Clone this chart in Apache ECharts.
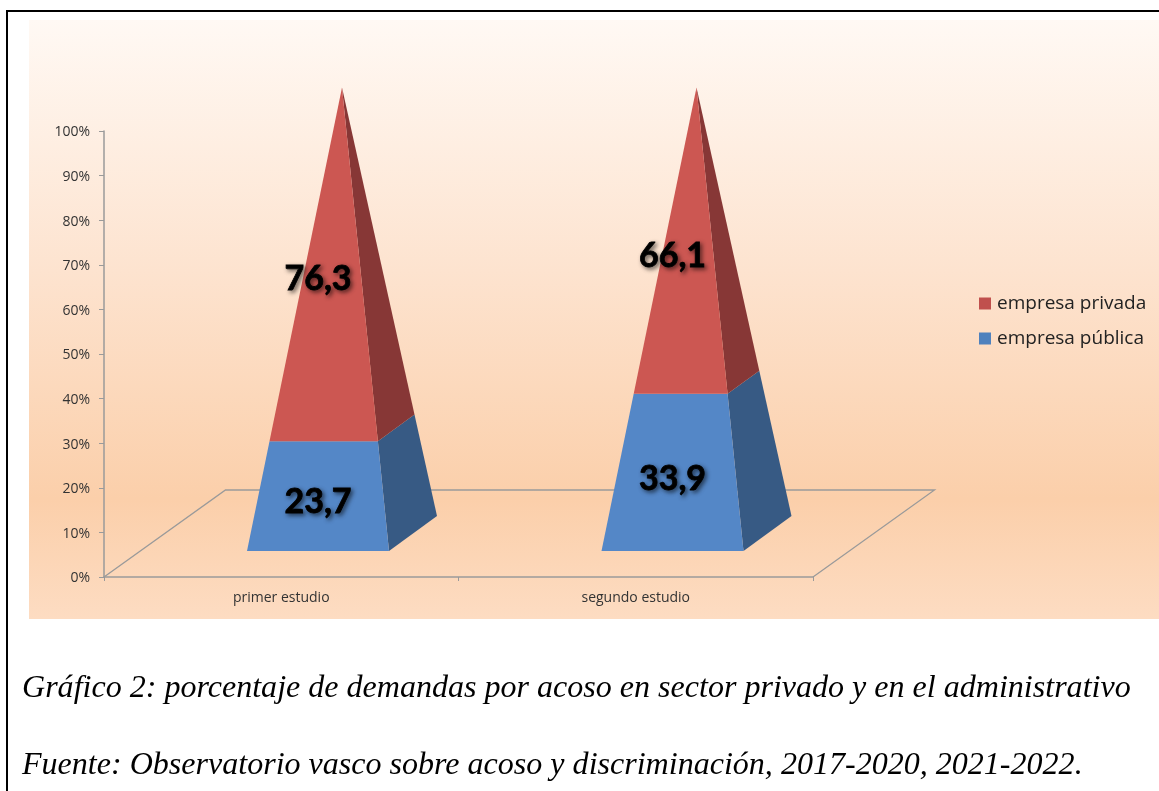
<!DOCTYPE html>
<html>
<head>
<meta charset="utf-8">
<style>
  html, body { margin: 0; padding: 0; background: #fff; overflow: hidden; }
  #chart { width: 1159px; height: 791px; }
</style>
<script src="https://cdn.jsdelivr.net/npm/echarts@6/dist/echarts.min.js"></script>
</head>
<body>
<div id="chart"></div>
<script>
const categories = ['primer estudio', 'segundo estudio'];
const empresaPublica = [23.7, 33.9];
const empresaPrivada = [76.3, 66.1];
const valueLabels = ['0%', '10%', '20%', '30%', '40%', '50%', '60%', '70%', '80%', '90%', '100%'];
const legendNames = ['empresa privada', 'empresa pública'];
const captionLines = [
  'Gráfico 2: porcentaje de demandas por acoso en sector privado y en el administrativo',
  'Fuente: Observatorio vasco sobre acoso y discriminación, 2017-2020, 2021-2022.'
];

// Oblique projection of the chart's floor: how far the back edge sits from the front edge.
const DEPTH_X = 121.5;
const DEPTH_Y = -87;
const BASE_HALF_WIDTH = 71;
const BASE_DEPTH_X = 24;
const BASE_DEPTH_Y = -17.5;

const chart = echarts.init(document.getElementById('chart'), null, { renderer: 'canvas' });

function fmt(v) {
  return v.toFixed(1).replace('.', ',');
}

// A pyramid section between two cumulative percentages, as front and side faces.
function pyramidSection(front, side) {
  return function (params, api) {
    const cat = api.value(0);
    const from = api.value(1);
    const to = api.value(2);
    const label = api.value(3);
    const p0 = api.coord([cat, 0]);
    const cx = p0[0] + DEPTH_X / 2;
    const ring = function (v) {
      const y = api.coord([cat, v])[1] + DEPTH_Y / 2;
      const s = 1 - v / 100;
      const fx = cx - BASE_DEPTH_X * s;
      const fy = y - BASE_DEPTH_Y * s;
      return {
        left: [fx - BASE_HALF_WIDTH * s, fy],
        right: [fx + BASE_HALF_WIDTH * s, fy],
        back: [cx + BASE_DEPTH_X * s + BASE_HALF_WIDTH * s, y + BASE_DEPTH_Y * s]
      };
    };
    const lo = ring(from);
    const hi = ring(to);
    const midY = api.coord([cat, (from + to) / 2])[1] + DEPTH_Y / 2;
    return {
      type: 'group',
      children: [
        { type: 'polygon', shape: { points: [lo.right, lo.back, hi.back, hi.right] }, style: { fill: side } },
        { type: 'polygon', shape: { points: [lo.left, lo.right, hi.right, hi.left] }, style: { fill: front } },
        {
          type: 'text',
          z2: 10,
          style: {
            x: cx - BASE_DEPTH_X,
            y: midY + 21,
            text: fmt(label),
            align: 'center',
            verticalAlign: 'middle',
            font: 'bold 34px Lato',
            fill: '#000',
            stroke: '#000',
            lineWidth: 0.8,
            textShadowColor: 'rgba(0,0,0,0.55)',
            textShadowBlur: 4,
            textShadowOffsetX: 2,
            textShadowOffsetY: 2
          }
        }
      ]
    };
  };
}

// The floor parallelogram behind the pyramids, spanning both category bands.
function floorItem(params, api) {
  const band = api.size([1, 0])[0];
  const first = api.coord([0, 0]);
  const last = api.coord([categories.length - 1, 0]);
  const a = [first[0] - band / 2, first[1]];
  const b = [last[0] + band / 2, last[1]];
  return {
    type: 'polyline',
    shape: { points: [a, [a[0] + DEPTH_X, a[1] + DEPTH_Y], [b[0] + DEPTH_X, b[1] + DEPTH_Y], b] },
    style: { stroke: '#9a9a9a', lineWidth: 1.3, fill: null }
  };
}

const publicRows = categories.map((c, i) => [i, 0, empresaPublica[i], empresaPublica[i]]);
const privateRows = categories.map((c, i) => [i, empresaPublica[i], empresaPublica[i] + empresaPrivada[i], empresaPrivada[i]]);

const option = {
  animation: false,
  backgroundColor: '#fff',
  textStyle: { fontFamily: 'Open Sans' },
  grid: { left: 104, top: 131, width: 709, height: 446 },
  graphic: [
    {
      type: 'rect', z: -10, silent: true,
      shape: { x: 29, y: 20, width: 1140, height: 599 },
      style: {
        fill: new echarts.graphic.LinearGradient(0, 0, 0, 1, [
          { offset: 0, color: '#fff9f4' },
          { offset: 0.42, color: '#fde3cf' },
          { offset: 0.8, color: '#fbcfaa' },
          { offset: 1, color: '#fddcc2' }
        ])
      }
    },
    {
      type: 'rect', z: 20, silent: true,
      shape: { x: 7, y: 11, width: 1200, height: 830 },
      style: { fill: null, stroke: '#000', lineWidth: 2 }
    },
    {
      type: 'text', z: 20, left: 22, top: 673,
      style: { text: captionLines[0], font: 'italic 32.05px "Liberation Serif"', fill: '#000' }
    },
    {
      type: 'text', z: 20, left: 22, top: 750,
      style: { text: captionLines[1], font: 'italic 32.05px "Liberation Serif"', fill: '#000' }
    }
  ],
  legend: {
    orient: 'vertical',
    left: 979,
    top: 294,
    padding: 0,
    itemWidth: 12,
    itemHeight: 12,
    itemGap: 16,
    icon: 'rect',
    data: legendNames,
    textStyle: { fontFamily: 'Open Sans', fontSize: 19, color: '#222', padding: [0, 0, 0, 1] }
  },
  xAxis: {
    type: 'category',
    data: categories,
    axisLine: { lineStyle: { color: '#9a9a9a', width: 1.5 } },
    axisTick: { show: true, length: 4, lineStyle: { color: '#9a9a9a' } },
    axisLabel: { color: '#333', fontSize: 14, margin: 14, fontFamily: 'Open Sans' },
    splitLine: { show: false }
  },
  yAxis: {
    type: 'value',
    min: 0,
    max: 100,
    interval: 10,
    axisLine: { show: true, lineStyle: { color: '#9a9a9a', width: 1.5 } },
    axisTick: { show: true, length: 5, lineStyle: { color: '#9a9a9a' } },
    axisLabel: {
      color: '#333', fontSize: 14, margin: 14, fontFamily: 'Open Sans',
      verticalAlign: 'top', lineHeight: 3,
      formatter: function (v) { return valueLabels[v / 10]; }
    },
    splitLine: { show: false }
  },
  series: [
    {
      type: 'custom', name: 'suelo', coordinateSystem: 'cartesian2d', z: 1, silent: true,
      renderItem: floorItem, data: [[0, 0]], encode: { x: 0, y: 1 }
    },
    {
      type: 'custom', name: legendNames[1], coordinateSystem: 'cartesian2d', z: 2,
      color: '#4f81bd', itemStyle: { color: '#4f81bd' },
      renderItem: pyramidSection('#5487c7', '#375a84'),
      data: publicRows, encode: { x: 0, y: [1, 2] }
    },
    {
      type: 'custom', name: legendNames[0], coordinateSystem: 'cartesian2d', z: 2,
      color: '#c0504d', itemStyle: { color: '#c0504d' },
      renderItem: pyramidSection('#cc5752', '#873736'),
      data: privateRows, encode: { x: 0, y: [1, 2] }
    }
  ]
};

chart.setOption(option);
</script>
</body>
</html>
